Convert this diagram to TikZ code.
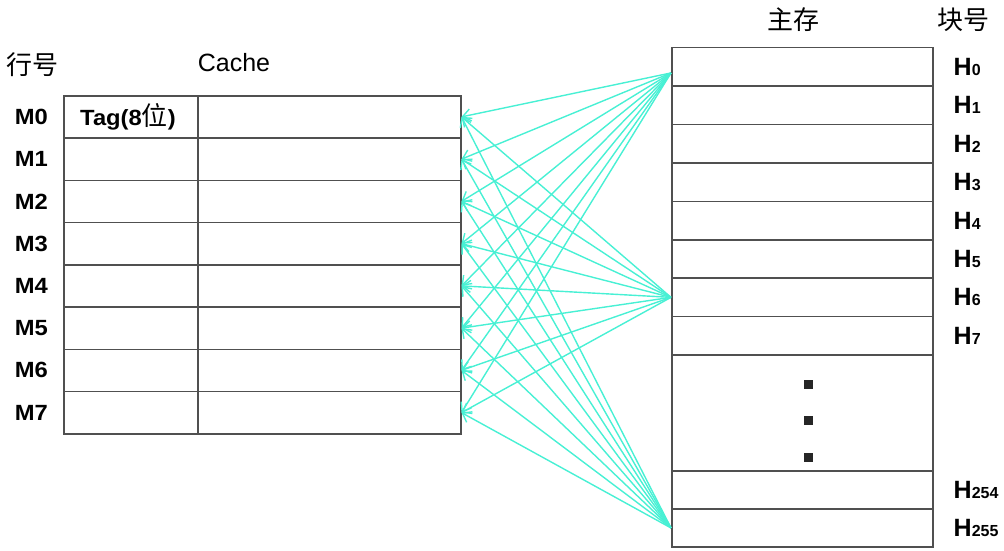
\documentclass[tikz,border=0pt]{standalone}
\usepackage{fontspec}
\setmainfont{Liberation Sans}
\newfontfamily\widefont{Liberation Sans}[FakeStretch=1.08]
\newfontfamily\cjk{Noto Sans CJK SC}
\usetikzlibrary{arrows.meta,positioning}
\definecolor{linkcol}{RGB}{72,240,212}
\definecolor{boxgray}{RGB}{80,80,80}
\newcommand{\blk}[1]{H{\fontsize{16}{16}\selectfont\bfseries #1}}

\begin{document}
\begin{tikzpicture}[
  x=1pt,y=-1pt,
  cell/.style={draw=boxgray,line width=1.5pt,minimum width=397pt,
               minimum height=42.25pt,inner sep=0pt,anchor=north west},
  mem/.style={draw=boxgray,line width=1.5pt,minimum width=261pt,
              minimum height=38.4pt,inner sep=0pt,anchor=north west},
  rowlab/.style={font=\fontsize{22}{22}\selectfont\widefont\bfseries,inner sep=0pt},
  blklab/.style={font=\fontsize{25}{25}\selectfont\bfseries,inner sep=0pt},
  head/.style={font=\fontsize{26}{26}\selectfont\cjk},
  dot/.style={fill=black!85,minimum size=9pt,inner sep=0pt},
  ar/.style={-{Straight Barb[length=8pt,width=12pt]},line width=1.4pt,linkcol}
]
\useasboundingbox (0,0) rectangle (1004,551);
% cache lines
\foreach \i in {0,...,7}
  \node[cell] (c\i) at (63,95+42.25*\i) {};
\draw[boxgray,line width=1.5pt] ([xshift=135pt]c0.north west)
  -- ([xshift=135pt]c7.south west);
\node[rowlab] (tag) at ([xshift=65pt]c0.west)
  {Tag(8{\fontsize{26}{26}\selectfont\cjk\mdseries 位})};
\foreach \i in {0,...,7}
  \node[rowlab,left=15pt of c\i] (m\i) {M\i};
% main memory blocks
\foreach \i in {0,...,7}
  \node[mem] (h\i) at (671,47+38.4*\i) {};
\node[mem,minimum height=116pt] (gap) at (671,354) {};
\node[mem] (h254) at (671,470) {};
\node[mem] (h255) at (671,508) {};
\foreach \k/\y in {1/384,2/420,3/457}
  \node[dot] (d\k) at (808,\y) {};
\foreach \i in {0,...,7,254,255}
  \node[blklab,right=20pt of h\i] (l\i) {\blk{\i}};
% headings
\node[head] (hang) at (32,65) {行号};
\node[font=\fontsize{25}{25}\selectfont] (cachet) at (234,63) {Cache};
\node[head] (zhu) at (793,20) {主存};
\node[head] (kuai) at (963,20) {块号};
% any block -> any line
\foreach \s/\d in {h0/-6,h6/0,h255/0}
  \foreach \i in {0,...,7}
    \draw[ar] ([yshift=\d pt]\s.west) -- (c\i.east);
\end{tikzpicture}
\end{document}
